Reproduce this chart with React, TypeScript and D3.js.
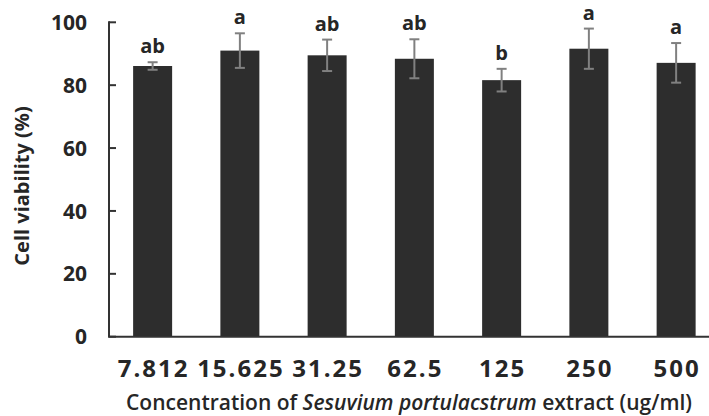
import * as d3 from "d3";
import React from "react";

const concentrations = ["7.812", "15.625", "31.25", "62.5", "125", "250", "500"];
const viability = [86.1, 91.0, 89.5, 88.4, 81.6, 91.6, 87.1];
const sd = [1.2, 5.5, 5.0, 6.2, 3.6, 6.4, 6.3];
const letters = ["ab", "a", "ab", "ab", "b", "a", "a"];
const yTicks = [0, 20, 40, 60, 80, 100];

const W = 709;
const H = 416;
const left = 109;
const zeroY = 336.7;
const topY = 22.3;

const font = "'Open Sans', sans-serif";
const textColor = "#262626";

export default function App() {
  const x = d3
    .scaleBand<string>()
    .domain(concentrations)
    .range([left, left + 7 * 87.25])
    .paddingInner(0.553)
    .paddingOuter(0.2765);
  const y = d3.scaleLinear().domain([0, 100]).range([zeroY, topY]);
  const bw = x.bandwidth();

  return (
    <svg
      width={W}
      height={H}
      style={{ position: "absolute", left: 0, top: 0, background: "#fff" }}
    >
      {/* bars */}
      {concentrations.map((c, i) => (
        <rect
          key={c}
          x={x(c)}
          y={y(viability[i])}
          width={bw}
          height={y(0) - y(viability[i])}
          fill="#2d2d2d"
        />
      ))}

      {/* error bars */}
      {concentrations.map((c, i) => {
        const cx = (x(c) as number) + bw / 2;
        const hi = y(viability[i] + sd[i]);
        const lo = y(viability[i] - sd[i]);
        return (
          <g key={"e" + c} stroke="#808080" strokeWidth={2}>
            <line x1={cx} x2={cx} y1={hi} y2={lo} />
            <line x1={cx - 5} x2={cx + 5} y1={hi} y2={hi} />
            <line x1={cx - 5} x2={cx + 5} y1={lo} y2={lo} />
          </g>
        );
      })}

      {/* significance letters */}
      {concentrations.map((c, i) => (
        <text
          key={"l" + c}
          x={(x(c) as number) + bw / 2}
          y={y(viability[i] + sd[i]) - 9}
          textAnchor="middle"
          fontFamily={font}
          fontWeight="bold"
          fontSize={20}
          fill={textColor}
        >
          {letters[i]}
        </text>
      ))}

      {/* y axis */}
      <line x1={left} x2={left} y1={topY - 1} y2={zeroY} stroke="#333" strokeWidth={2} />
      {yTicks.map((t) => (
        <g key={"t" + t}>
          <line x1={left} x2={left + 7} y1={y(t)} y2={y(t)} stroke="#333" strokeWidth={2} />
          <text
            x={87}
            y={y(t)}
            dy="0.36em"
            textAnchor="end"
            fontFamily={font}
            fontWeight="bold"
            fontSize={21}
            fill={textColor}
          >
            {t}
          </text>
        </g>
      ))}

      {/* x axis */}
      <line x1={left - 1} x2={W} y1={zeroY} y2={zeroY} stroke="#333" strokeWidth={2} />
      {concentrations.map((c) => (
        <text
          key={"x" + c}
          x={(x(c) as number) + bw / 2}
          dx={1}
          y={376.5}
          textAnchor="middle"
          fontFamily={font}
          fontWeight="bold"
          fontSize={24}
          letterSpacing={2}
          fill={textColor}
        >
          {c}
        </text>
      ))}

      {/* axis titles */}
      <text
        x={409}
        y={410}
        textAnchor="middle"
        fontFamily={font}
        fontWeight={600}
        fontSize={21}
        fill={textColor}
      >
        Concentration of <tspan fontStyle="italic">Sesuvium portulacstrum</tspan> extract (ug/ml)
      </text>
      <text
        transform="translate(29,186) rotate(-90)"
        textAnchor="middle"
        fontFamily={font}
        fontWeight="bold"
        fontSize={20}
        fill={textColor}
      >
        Cell viability (%)
      </text>
    </svg>
  );
}
